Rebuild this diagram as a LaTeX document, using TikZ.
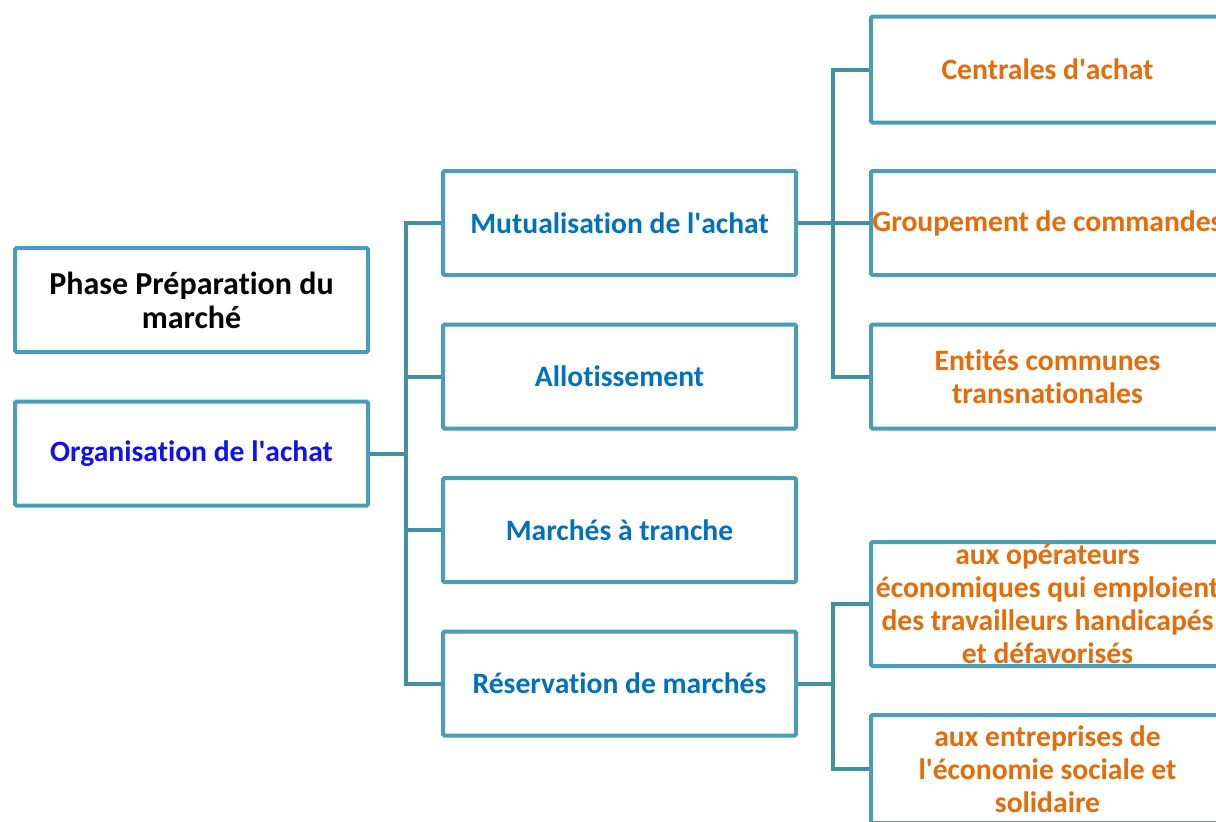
\documentclass[tikz,border=0pt]{standalone}
\usepackage{fontspec}
\setmainfont{Carlito}[Ligatures=NoCommon]
\usetikzlibrary{positioning,calc}
\definecolor{boxline}{RGB}{75,156,182}
\definecolor{linkline}{RGB}{66,142,164}
\definecolor{levelone}{RGB}{16,16,240}
\definecolor{leveltwo}{RGB}{0,112,192}
\definecolor{levelthree}{RGB}{228,108,10}
\newcommand{\apos}{\textquotesingle}

\begin{document}
\begin{tikzpicture}[x=1pt,y=-1pt,
                    box/.style={draw=boxline, line width=4pt, rounded corners=1.5pt, fill=white,
                                minimum width=353pt, minimum height=104pt, inner sep=0pt,
                                align=center, font=\fontsize{29.6}{33}\selectfont\bfseries},
                    link/.style={draw=linkline, line width=4pt}]
                    \useasboundingbox (0,0) rectangle (1216,822);
                    \clip (0,0) rectangle (1216,822);
                    % premier niveau
                    \node[box, font=\fontsize{32}{34}\selectfont\bfseries] (phase) at (191.5,300) {Phase Préparation du\\marché};
                    \node[box, text=levelone] (org) at (191.5,453.5) {Organisation de l\apos achat};
                    % deuxieme niveau
                    \node[box, text=leveltwo] (mut) at (619.5,223) {Mutualisation de l\apos achat};
                    \node[box, text=leveltwo] (allot) at (619.5,376.5) {Allotissement};
                    \node[box, text=leveltwo] (tranche) at (619.5,530) {Marchés à tranche};
                    \node[box, text=leveltwo] (reserv) at (619.5,683.5) {Réservation de marchés};
                    % troisieme niveau
                    \node[box, text=levelthree, minimum height=106pt] (centrales) at (1047.5,69.5) {Centrales d\apos achat};
                    \node[box, text=levelthree] (groupement) at (1047.5,223) {Groupement de commandes};
                    \node[box, text=levelthree] (entites) at (1047.5,376.5) {Entités communes\\transnationales};
                    \node[box, text=levelthree, minimum height=124pt] (operateurs) at (1047.5,604)
                        {aux opérateurs\\économiques qui emploient\\des travailleurs handicapés\\et défavorisés};
                    \node[box, text=levelthree, minimum height=108pt] (entreprises) at (1047.5,769)
                        {aux entreprises de\\l\apos économie sociale et\\solidaire};
                    % liaisons
                    \foreach \c in {mut,allot,tranche,reserv}{
                        \draw[link] (org.east) -- ++(36,0) |- (\c.west);
                    }
                    \foreach \c in {centrales,groupement,entites}{
                        \draw[link] (mut.east) -- ++(35,0) |- (\c.west);
                    }
                    \foreach \c in {operateurs,entreprises}{
                        \draw[link] (reserv.east) -- ++(35,0) |- (\c.west);
                    }
                \end{tikzpicture}
\end{document}
